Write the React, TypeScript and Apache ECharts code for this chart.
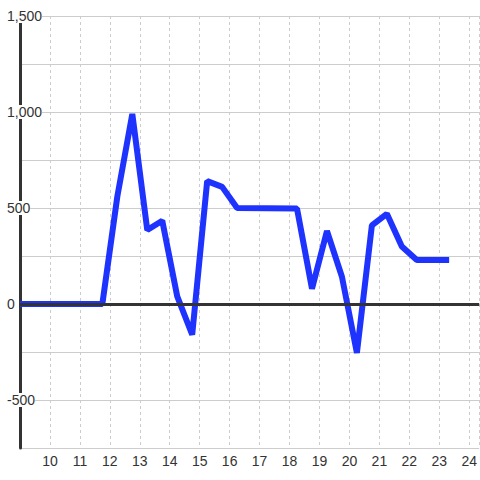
import React, { useEffect, useRef } from "react";
import * as echarts from "echarts";

const hours = [9, 11.75, 12.25, 12.75, 13.25, 13.75, 14.25, 14.75, 15.25, 15.75, 16.25, 18.25, 18.75, 19.25, 19.75, 20.25, 20.75, 21.25, 21.75, 22.25, 23.33];
const values = [0, 0, 560, 990, 385, 434, 40, -160, 640, 610, 500, 497, 80, 380, 142, -255, 410, 470, 299, 229, 229];

const X_MIN = 9;
const X_MAX = 24.333;
const Y_MIN = -750;
const Y_MAX = 1500;

export default function App() {
  const ref = useRef<HTMLDivElement>(null);
  useEffect(() => {
    document.body.style.margin = "0";
    const chart = echarts.init(ref.current!, null, { renderer: "svg" });
    const data = hours.map((h, i) => [h, values[i]]);
    chart.setOption({
      animation: false,
      grid: { left: 20, top: 16, right: 0, bottom: 32 },
      xAxis: {
        type: "value",
        min: X_MIN,
        max: X_MAX,
        interval: 1,
        axisLine: { show: false, onZero: false },
        axisTick: { show: false },
        axisLabel: {
          showMinLabel: false,
          showMaxLabel: false,
          margin: 6,
          color: "#333",
          fontSize: 14,
          fontFamily: "Liberation Sans, Arial, sans-serif",
        },
        splitLine: { show: true, lineStyle: { color: "#ccc", type: [3, 3], width: 1 } },
      },
      yAxis: {
        type: "value",
        min: Y_MIN,
        max: Y_MAX,
        interval: 250,
        axisLine: { show: true, onZero: false, lineStyle: { color: "#333", width: 3 } },
        axisTick: { show: false },
        axisLabel: {
          align: "left",
          margin: 13,
          color: "#333",
          fontSize: 14,
          fontFamily: "Liberation Sans, Arial, sans-serif",
          backgroundColor: "#fff",
          formatter: (v: number) => (v % 500 === 0 && v !== Y_MIN ? v.toLocaleString("en-US") : ""),
        },
        splitLine: { show: true, lineStyle: { color: "#ccc", width: 1 } },
      },
      series: [
        {
          type: "line",
          data: [],
          z: 1,
          markLine: {
            silent: true,
            symbol: "none",
            label: { show: false },
            lineStyle: { color: "#333", width: 3, type: "solid" },
            data: [{ yAxis: 0 }],
          },
        },
        {
          type: "line",
          z: 3,
          data,
          showSymbol: false,
          lineStyle: { color: "#1f33ff", width: 6 },
          itemStyle: { color: "#1f33ff" },
        },
      ],
    });
    return () => chart.dispose();
  }, []);
  return <div ref={ref} style={{ width: 480, height: 480 }} />;
}
